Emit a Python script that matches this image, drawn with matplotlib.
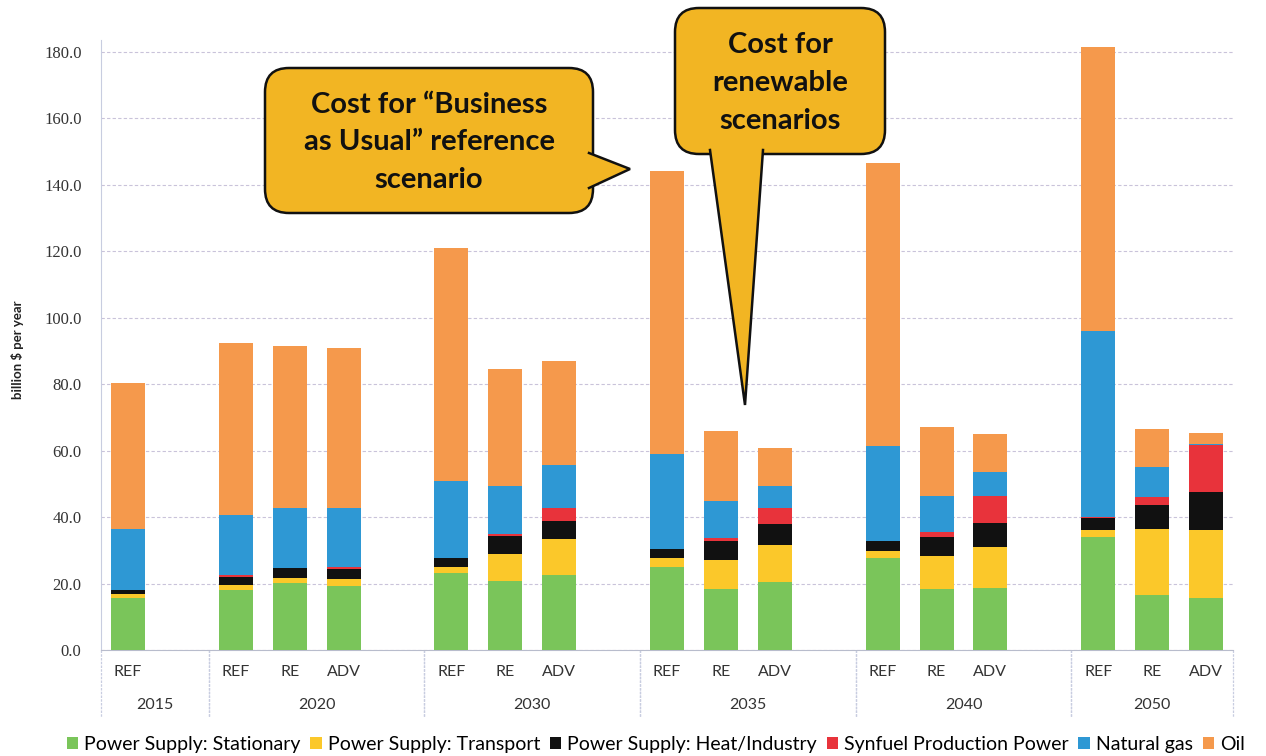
import numpy as np
import matplotlib
matplotlib.use("Agg")
import matplotlib.pyplot as plt
from matplotlib.patches import FancyBboxPatch, Polygon

# groups and scenarios on the x axis
YEARS = ["2015", "2020", "2030", "2035", "2040", "2050"]
SCENARIOS = [["REF"], ["REF", "RE", "ADV"], ["REF", "RE", "ADV"],
             ["REF", "RE", "ADV"], ["REF", "RE", "ADV"], ["REF", "RE", "ADV"]]

# billion $ per year, one value per bar (in order of the x axis)
stationary = [15.8, 18.1, 20.3, 19.3, 23.1, 20.8, 22.6, 25.1, 18.5, 20.4, 27.8, 18.3, 18.6, 33.9, 16.6, 15.6]
transport = [1.0, 1.5, 1.3, 2.0, 2.0, 8.1, 10.7, 2.5, 8.6, 11.2, 2.0, 10.1, 12.5, 2.2, 19.7, 20.5]
heat = [1.3, 2.5, 3.0, 3.0, 2.7, 5.5, 5.5, 2.9, 5.7, 6.2, 3.0, 5.5, 7.0, 3.5, 7.4, 11.4]
synfuel = [0.0, 0.5, 0.2, 0.8, 0.0, 0.5, 3.8, 0.0, 0.8, 4.8, 0.0, 1.5, 8.4, 0.3, 2.3, 14.2]
gas = [18.2, 18.0, 18.0, 17.5, 23.1, 14.5, 13.2, 28.5, 11.3, 6.8, 28.7, 11.1, 7.2, 56.0, 9.2, 0.3]
oil = [44.0, 51.7, 48.7, 48.2, 70.0, 35.1, 31.3, 85.2, 21.0, 11.3, 85.1, 20.7, 11.3, 85.6, 11.2, 3.3]

SERIES = [
    ("Power Supply: Stationary", stationary, "#7ac55a"),
    ("Power Supply: Transport", transport, "#fbc82a"),
    ("Power Supply: Heat/Industry", heat, "#111111"),
    ("Synfuel Production Power", synfuel, "#e8333b"),
    ("Natural gas", gas, "#2e98d4"),
    ("Oil", oil, "#f5994c"),
]

plt.rcParams["font.family"] = ["Lato", "DejaVu Sans"]

W, H = 1266, 756
fig = plt.figure(figsize=(W / 100, H / 100), dpi=100)
ax = fig.add_axes([101 / W, 106 / H, 1132 / W, 610 / H])

# slot positions: each year group followed by one empty slot
pos, labels, group_spans = [], [], []
slot = 0
for yr, scen in zip(YEARS, SCENARIOS):
    start = slot
    for s in scen:
        pos.append(slot)
        labels.append(s)
        slot += 1
    if yr != YEARS[-1]:
        slot += 1
    group_spans.append((start - 0.5, slot - 0.5))
pos = np.array(pos)

bottom = np.zeros(len(pos))
for name, vals, col in SERIES:
    v = np.array(vals)
    ax.bar(pos, v, width=0.63, bottom=bottom, color=col, label=name, zorder=3)
    bottom += v

ax.set_xlim(-0.5, slot - 0.5)
ax.set_ylim(0, 183.6)
ax.set_yticks(np.arange(0, 181, 20))
ax.set_yticklabels([f"{t:.1f}" for t in np.arange(0, 181, 20)],
                   family="Liberation Serif", fontsize=12, color="#333333")
ax.tick_params(axis="y", length=0, pad=14)
ax.set_xticks([])
ax.grid(axis="y", color="#c9c3da", linestyle=(0, (3, 2)), linewidth=0.8, zorder=0)
ax.spines[["top", "right"]].set_visible(False)
ax.spines["left"].set_color("#c8cde0")
ax.spines["left"].set_linestyle((0, (2, 1)))
ax.spines["bottom"].set_color("#b8bccc")

# two-level category axis
tr = ax.get_xaxis_transform()
for p, lab in zip(pos, labels):
    ax.text(p, -0.036, lab, transform=tr, ha="center", va="center",
            fontsize=11.5, color="#333333")
for (a, b), yr in zip(group_spans, YEARS):
    ax.text((a + b) / 2, -0.09, yr, transform=tr, ha="center", va="center",
            fontsize=11.5, color="#333333")
    for x in (a, b):
        ax.plot([x, x], [0, -0.11], transform=tr, color="#c8cde0",
                linestyle=(0, (2, 1)), linewidth=0.9, clip_on=False)

fig.text(0.014, 0.537, "billion $ per year", rotation=90, ha="center", va="center",
         fontsize=9.5, fontweight="bold", color="#222222")

handles, names = ax.get_legend_handles_labels()
fig.legend(handles, names, loc="center", bbox_to_anchor=(0.518, 0.015), ncol=6,
           frameon=False, fontsize=14, handlelength=0.6, handleheight=0.6,
           handletextpad=0.3, columnspacing=0.5)

# callout bubbles drawn in pixel space
ov = fig.add_axes([0, 0, 1, 1], zorder=5)
ov.set_xlim(0, W)
ov.set_ylim(H, 0)
ov.axis("off")
ov.patch.set_alpha(0)

BUB = "#f2b523"


def bubble(x0, y0, x1, y1, ptr, text, fs):
    box = FancyBboxPatch((x0, y0), x1 - x0, y1 - y0,
                         boxstyle="round,pad=0,rounding_size=24",
                         fc=BUB, ec="#111111", lw=1.8, zorder=1)
    ov.add_patch(box)
    (ax1, ay1), tip, (ax2, ay2) = ptr
    ov.add_patch(Polygon([(ax1, ay1), tip, (ax2, ay2)], closed=True,
                         fc=BUB, ec="none", zorder=2))
    ov.plot([ax1, tip[0], ax2], [ay1, tip[1], ay2], color="#111111", lw=1.8,
            zorder=3, solid_joinstyle="miter")
    ov.text((x0 + x1) / 2, (y0 + y1) / 2 + 2, text, ha="center", va="center",
            fontsize=fs, fontweight="bold", color="#111111", linespacing=1.55, zorder=4)


bubble(265, 68, 593, 213, [(589, 153), (630, 169), (589, 188)],
       "Cost for \u201cBusiness\nas Usual\u201d reference\nscenario", 21)
bubble(675, 8, 885, 154, [(710, 150), (745, 405), (763, 150)],
       "Cost for\nrenewable\nscenarios", 21)

fig.savefig("out.png", dpi=100)
